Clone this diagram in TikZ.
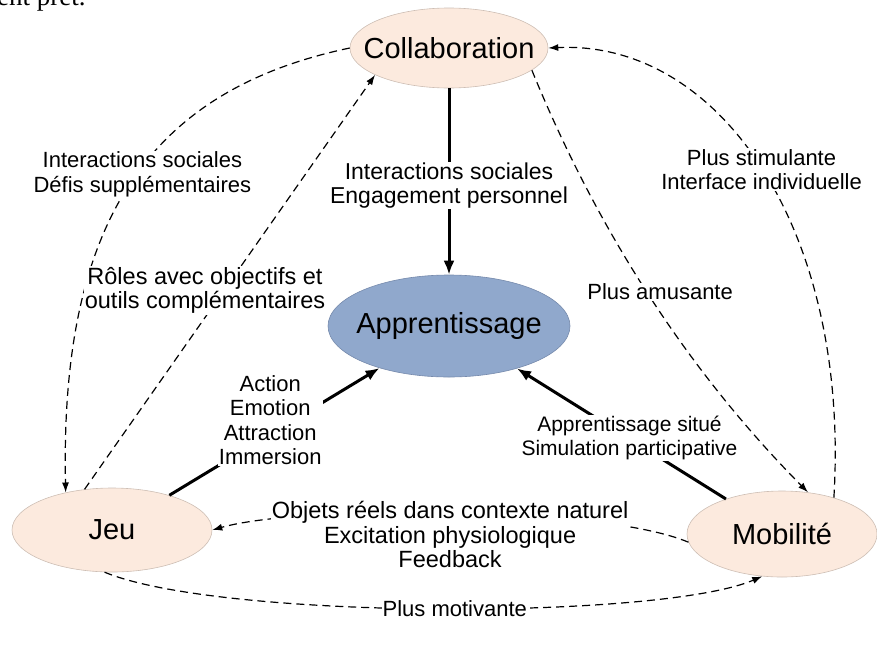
\documentclass[tikz,border=0pt]{standalone}
\usepackage{fontspec}
\setmainfont{Liberation Sans}
\newfontfamily\pagefont{Liberation Serif}
\usetikzlibrary{shapes.geometric,arrows.meta}

\definecolor{peche}{RGB}{252,234,222}
\definecolor{bordpeche}{RGB}{205,190,180}
\definecolor{bleu}{RGB}{144,168,204}
\definecolor{bordbleu}{RGB}{118,138,172}

\newcommand{\boite}[1]{\makebox[0pt]{#1}}

\tikzset{
	theme/.style={ellipse, draw=bordpeche, fill=peche, line width=0.6pt, inner sep=0pt,
		minimum width=198pt, minimum height=80pt, font=\fontsize{29}{34}\selectfont},
	coeur/.style={theme, draw=bordbleu, fill=bleu, minimum width=242pt, minimum height=102pt},
	etiq/.style={fill=white, align=center, inner sep=1pt, font=\fontsize{22}{24.5}\selectfont},
	grand/.style={font=\fontsize{23.5}{24.5}\selectfont},
	petit/.style={font=\fontsize{21}{24.5}\selectfont},
	fort/.style={line width=3pt, -{Latex[length=14pt,width=11pt]}},
	tiret/.style={line width=1.2pt, dash pattern=on 8pt off 5pt, -{Latex[length=10pt,width=7pt]}},
}

\begin{document}
\begin{tikzpicture}[x=1pt, y=-1pt]
		\clip (0,0) rectangle (877,648);
		\node[anchor=base west, inner sep=0pt, font=\pagefont\fontsize{27}{30}\selectfont] (reste) at (-3,5) {ent prêt.};
		\node[theme] (collab) at (449,48) {\boite{Collaboration}};
		\node[coeur] (appr) at (449,326) {\boite{Apprentissage}};
		\node[theme, minimum width=200pt, minimum height=84pt] (jeu) at (112,530) {\boite{Jeu}};
		\node[theme, minimum width=190pt, minimum height=86pt] (mob) at (782,534) {\boite{Mobilité}};
		%
		\draw[fort] (collab) -- node[etiq, font=\fontsize{23}{24.5}\selectfont, yshift=-4pt] {Interactions sociales\\Engagement personnel} (appr);
		\draw[fort] (jeu) -- node[etiq, pos=0.48, yshift=14pt] {Action\\Emotion\\Attraction\\Immersion} (appr);
		\draw[fort] (mob) -- node[etiq, petit, xshift=8pt, yshift=-4pt] {Apprentissage situé\\Simulation participative} (appr);
		%
		\draw[tiret] (collab.west) .. controls (150,90) and (60,220) .. node[etiq, pos=0.46, yshift=-7pt] {Interactions sociales\\Défis supplémentaires} (jeu.141);
		\draw[tiret] (jeu.124) -- node[etiq, grand, pos=0.48, xshift=-19pt] {Rôles avec objectifs et\\outils complémentaires} (collab.200);
		\draw[tiret] (collab.-15) .. controls (598,232) and (689,372) .. node[etiq, xshift=10pt, yshift=5pt] {Plus amusante} (mob.58);
		\draw[tiret] (mob.35) .. controls (850,230) and (720,40) .. node[etiq] {Plus stimulante\\Interface individuelle} (collab.east);
		\draw[tiret] (mob.185) .. controls (600,505) and (300,505) .. node[etiq, grand, anchor=north, yshift=13pt] {Objets réels dans contexte naturel\\Excitation physiologique\\Feedback} (jeu.east);
		\draw[tiret] (jeu.260) .. controls (220,620) and (660,620) .. node[etiq, pos=0.52] {Plus motivante} (mob.245);
\end{tikzpicture}
\end{document}
